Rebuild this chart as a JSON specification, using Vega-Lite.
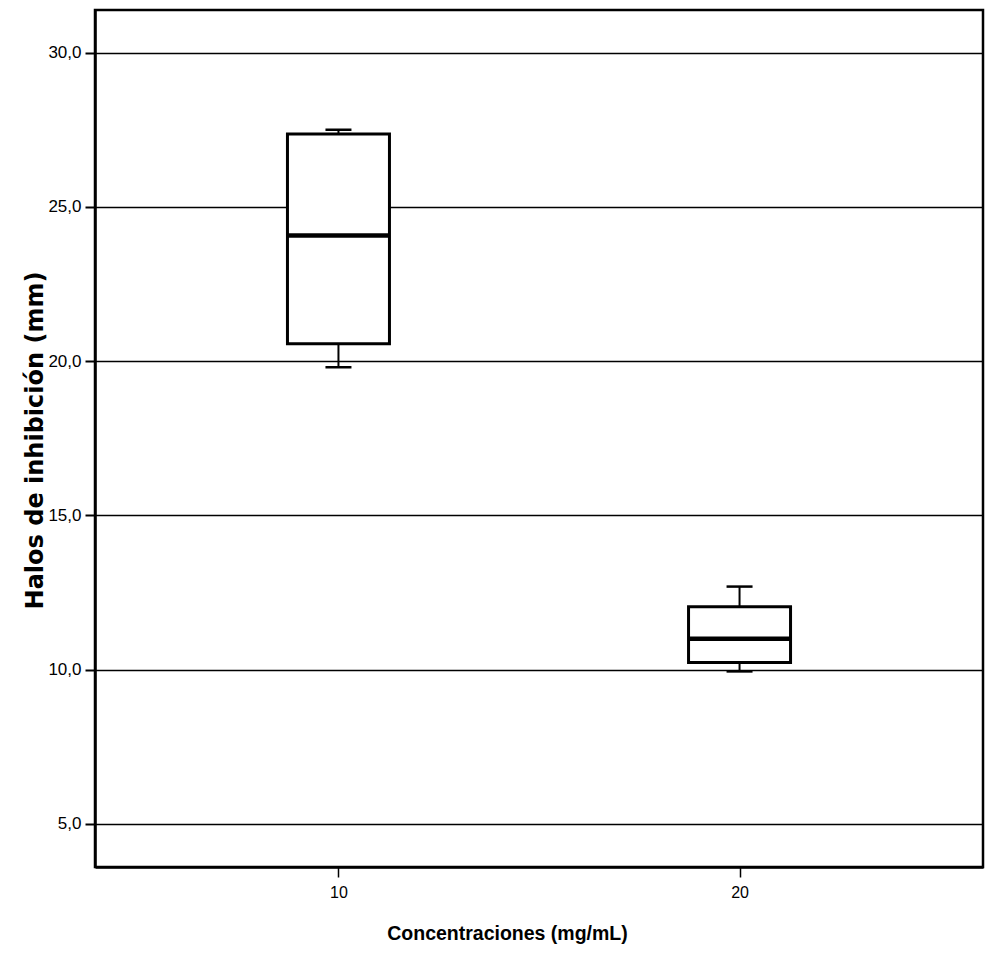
{
  "$schema": "https://vega.github.io/schema/vega-lite/v6.json",
  "autosize": {"type": "none"},
  "padding": {"left": 95, "top": 10, "right": 6, "bottom": 96},
  "width": 888,
  "height": 857,
  "background": "white",
  "config": {
    "view": {"stroke": "black", "strokeWidth": 2.5},
    "font": "Liberation Sans"
  },
  "data": {
    "values": [
      {"conc": "10", "lower": 19.8, "q1": 20.56, "median": 24.07, "q3": 27.36, "upper": 27.5},
      {"conc": "20", "lower": 9.94, "q1": 10.23, "median": 11.0, "q3": 12.04, "upper": 12.69}
    ]
  },
  "encoding": {
    "x": {
      "field": "conc",
      "type": "ordinal",
      "scale": {"type": "point", "padding": 0.607},
      "axis": {
        "title": "Concentraciones (mg/mL)",
        "titleFont": "Liberation Sans",
        "titleFontSize": 19.5,
        "titleFontWeight": "bold",
        "titleColor": "black",
        "titleX": 412,
        "titleY": 66,
        "titleBaseline": "middle",
        "titleAlign": "center",
        "labelAngle": 0,
        "labelFont": "Liberation Sans",
        "labelFontSize": 16,
        "labelColor": "black",
        "labelPadding": 7,
        "tickColor": "black",
        "tickSize": 10,
        "tickWidth": 1.5,
        "domainColor": "black",
        "domainWidth": 2.5,
        "grid": false
      }
    }
  },
  "layer": [
    {
      "mark": {"type": "rule", "color": "black", "strokeWidth": 2},
      "encoding": {
        "y": {
          "field": "lower",
          "type": "quantitative",
          "scale": {"domain": [3.6, 31.38], "nice": false, "zero": false},
          "axis": {
            "title": "Halos de inhibición (mm)",
            "titleFont": "DejaVu Sans",
            "titleFontSize": 24,
            "titleFontWeight": "bold",
            "titleColor": "black",
            "titleAngle": -90,
            "titleX": -60,
            "titleY": 430,
            "titleAlign": "center",
            "titleBaseline": "middle",
            "values": [5, 10, 15, 20, 25, 30],
            "labelExpr": "replace(format(datum.value, '.1f'), '.', ',')",
            "labelFont": "Liberation Sans",
            "labelFontSize": 17,
            "labelColor": "black",
            "labelPadding": 4,
            "tickColor": "black",
            "tickSize": 10,
            "tickWidth": 2,
            "domainColor": "black",
            "domainWidth": 2.5,
            "grid": true,
            "gridColor": "black",
            "gridWidth": 1.5,
            "gridOpacity": 1
          }
        },
        "y2": {"field": "upper"}
      }
    },
    {
      "mark": {"type": "bar", "size": 102, "fill": "white", "stroke": "black", "strokeWidth": 3},
      "encoding": {
        "y": {"field": "q1", "type": "quantitative"},
        "y2": {"field": "q3"}
      }
    },
    {
      "mark": {"type": "tick", "size": 102, "thickness": 4.5, "color": "black", "opacity": 1},
      "encoding": {
        "y": {"field": "median", "type": "quantitative"}
      }
    },
    {
      "mark": {"type": "tick", "size": 26, "thickness": 2.5, "color": "black", "opacity": 1},
      "encoding": {
        "y": {"field": "upper", "type": "quantitative"}
      }
    },
    {
      "mark": {"type": "tick", "size": 26, "thickness": 2.5, "color": "black", "opacity": 1},
      "encoding": {
        "y": {"field": "lower", "type": "quantitative"}
      }
    }
  ]
}
